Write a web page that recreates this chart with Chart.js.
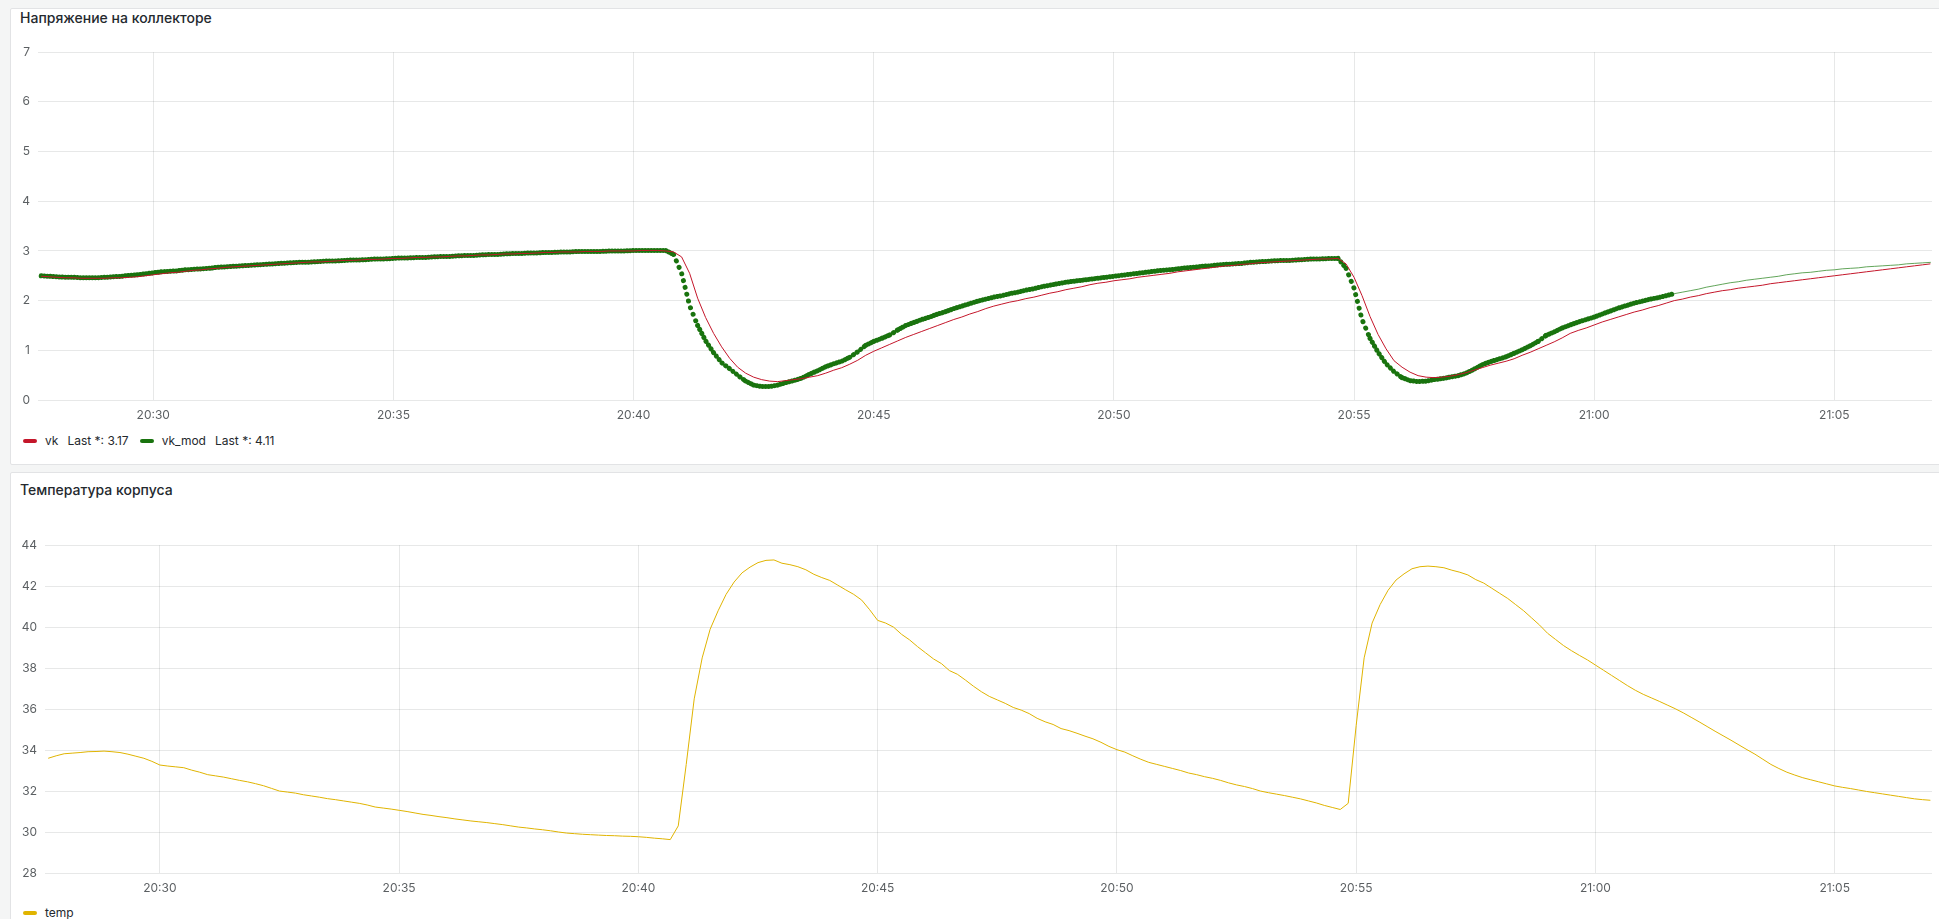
<!DOCTYPE html>
<html>
<head>
<meta charset="utf-8">
<script src="https://cdn.jsdelivr.net/npm/chart.js@4.4.1/dist/chart.umd.min.js"></script>
<style>
  html, body { margin: 0; padding: 0; width: 1939px; height: 919px; overflow: hidden; background: #f4f5f5; font-family: Inter, "Noto Sans", sans-serif; }
  .panel { position: absolute; left: 10px; width: 1940px; background: #fff; border: 1px solid #e2e3e5; border-radius: 2px; }
  #panel1 { top: 8px; height: 455px; }
  #panel2 { top: 472px; height: 470px; }
  .title { position: absolute; left: 20px; font-size: 14px; line-height: 16px; font-weight: 500; color: #24292e; }
  .legend { position: absolute; left: 23px; font-size: 12px; line-height: 14px; color: #24292e; display: flex; align-items: center; }
  .item { display: flex; align-items: center; margin-right: 11px; }
  .mark { width: 14px; height: 4px; border-radius: 2px; margin-right: 8px; }
  .last { margin-left: 9px; }
  canvas { position: absolute; }
</style>
</head>
<body>
<div class="panel" id="panel1"></div>
<div class="panel" id="panel2"></div>

<div class="title" style="top:10px">Напряжение на коллекторе</div>
<canvas id="vkChart" width="1929" height="385" style="left:10px;top:37px"></canvas>
<div class="legend" style="top:434px">
  <div class="item"><span class="mark" style="background:#C4162A"></span>vk<span class="last">Last *: 3.17</span></div>
  <div class="item"><span class="mark" style="background:#19730E"></span>vk_mod<span class="last">Last *: 4.11</span></div>
</div>

<div class="title" style="top:482px">Температура корпуса</div>
<canvas id="tempChart" width="1929" height="365" style="left:10px;top:530px"></canvas>
<div class="legend" style="top:906px">
  <div class="item"><span class="mark" style="background:#E0B400"></span>temp</div>
</div>

<script>
// samples every 10 s, first one at 20:27:40
const startTime = "20:27:40";
const stepSec = 10;

const timeTicks = ["20:30", "20:35", "20:40", "20:45", "20:50", "20:55", "21:00", "21:05"];

const vkValues = [
  2.49, 2.48,
  2.47, 2.46, 2.46, 2.45, 2.45, 2.45,
  2.45, 2.46, 2.46, 2.47, 2.48, 2.50,
  2.52, 2.54, 2.56, 2.57, 2.59, 2.61,
  2.62, 2.64, 2.65, 2.67, 2.68, 2.69,
  2.70, 2.71, 2.72, 2.73, 2.74, 2.75,
  2.76, 2.77, 2.78, 2.78, 2.79, 2.80,
  2.81, 2.81, 2.82, 2.83, 2.83, 2.84,
  2.85, 2.85, 2.86, 2.87, 2.87, 2.88,
  2.88, 2.89, 2.90, 2.90, 2.91, 2.92,
  2.92, 2.93, 2.94, 2.94, 2.95, 2.95,
  2.96, 2.97, 2.97, 2.98, 2.98, 2.98,
  2.99, 2.99, 2.99, 3.00, 3.00, 3.00,
  3.00, 3.01, 3.01, 3.01, 3.00, 2.98,
  2.88, 2.55, 2.05, 1.66, 1.34, 1.07,
  0.84, 0.66, 0.54, 0.46, 0.41, 0.38,
  0.37, 0.39, 0.41, 0.43, 0.46, 0.49,
  0.54, 0.60, 0.65, 0.72, 0.80, 0.90,
  0.98, 1.05, 1.12, 1.19, 1.26, 1.32,
  1.38, 1.44, 1.50, 1.56, 1.62, 1.67,
  1.73, 1.78, 1.84, 1.89, 1.93, 1.97,
  2.00, 2.04, 2.07, 2.11, 2.15, 2.18,
  2.22, 2.25, 2.28, 2.32, 2.35, 2.37,
  2.40, 2.42, 2.44, 2.47, 2.49, 2.51,
  2.53, 2.55, 2.58, 2.60, 2.62, 2.64,
  2.66, 2.68, 2.70, 2.71, 2.73, 2.74,
  2.76, 2.77, 2.78, 2.79, 2.80, 2.81,
  2.82, 2.83, 2.84, 2.84, 2.85, 2.74,
  2.47, 2.10, 1.68, 1.32, 1.03, 0.79,
  0.66, 0.56, 0.49, 0.46, 0.45, 0.46,
  0.48, 0.51, 0.55, 0.60, 0.65, 0.70,
  0.74, 0.78, 0.83, 0.90, 0.96, 1.03,
  1.10, 1.17, 1.25, 1.34, 1.40, 1.45,
  1.51, 1.57, 1.62, 1.67, 1.72, 1.77,
  1.81, 1.86, 1.90, 1.95, 2.00, 2.03,
  2.07, 2.10, 2.14, 2.17, 2.20, 2.22,
  2.25, 2.27, 2.29, 2.31, 2.34, 2.36,
  2.38, 2.40, 2.42, 2.44, 2.46, 2.48,
  2.50, 2.52, 2.54, 2.56, 2.58, 2.60,
  2.62, 2.64, 2.66, 2.68, 2.70, 2.72,
  2.74
];

const vkModValues = [
  2.50, 2.49,
  2.48, 2.47, 2.47, 2.46, 2.46, 2.46,
  2.47, 2.48, 2.49, 2.51, 2.52, 2.54,
  2.56, 2.58, 2.59, 2.60, 2.62, 2.63,
  2.64, 2.65, 2.67, 2.68, 2.69, 2.70,
  2.71, 2.72, 2.73, 2.74, 2.75, 2.76,
  2.77, 2.77, 2.78, 2.79, 2.80, 2.80,
  2.81, 2.82, 2.82, 2.83, 2.84, 2.84,
  2.85, 2.86, 2.86, 2.87, 2.87, 2.88,
  2.89, 2.89, 2.90, 2.91, 2.91, 2.92,
  2.93, 2.93, 2.94, 2.95, 2.95, 2.96,
  2.96, 2.97, 2.97, 2.98, 2.98, 2.99,
  2.99, 2.99, 2.99, 3.00, 3.00, 3.00,
  3.01, 3.01, 3.01, 3.01, 3.01, 2.93,
  2.55, 1.90, 1.50, 1.19, 0.95, 0.75,
  0.63, 0.50, 0.38, 0.30, 0.27, 0.27,
  0.30, 0.35, 0.39, 0.44, 0.52, 0.59,
  0.67, 0.73, 0.78, 0.86, 0.97, 1.10,
  1.18, 1.24, 1.31, 1.41, 1.50, 1.56,
  1.62, 1.67, 1.73, 1.78, 1.84, 1.89,
  1.94, 1.99, 2.03, 2.07, 2.10, 2.14,
  2.17, 2.21, 2.24, 2.28, 2.31, 2.34,
  2.37, 2.39, 2.41, 2.43, 2.45, 2.47,
  2.49, 2.51, 2.53, 2.55, 2.57, 2.59,
  2.61, 2.62, 2.64, 2.66, 2.67, 2.69,
  2.70, 2.72, 2.73, 2.74, 2.75, 2.77,
  2.78, 2.79, 2.80, 2.81, 2.81, 2.82,
  2.83, 2.84, 2.84, 2.85, 2.85, 2.65,
  2.25, 1.62, 1.24, 0.96, 0.73, 0.57,
  0.45, 0.39, 0.37, 0.38, 0.41, 0.43,
  0.46, 0.49, 0.54, 0.62, 0.71, 0.77,
  0.82, 0.87, 0.94, 1.01, 1.09, 1.18,
  1.30, 1.37, 1.45, 1.51, 1.57, 1.62,
  1.67, 1.73, 1.79, 1.85, 1.90, 1.95,
  1.99, 2.03, 2.06, 2.10, 2.14, 2.17,
  2.20, 2.23, 2.27, 2.30, 2.33, 2.36,
  2.38, 2.41, 2.43, 2.45, 2.47, 2.49,
  2.52, 2.54, 2.56, 2.57, 2.59, 2.61,
  2.62, 2.64, 2.65, 2.66, 2.68, 2.69,
  2.70, 2.71, 2.72, 2.74, 2.75, 2.76,
  2.77
];

const tempValues = [
  33.60, 33.72,
  33.82, 33.85, 33.88, 33.92, 33.93, 33.95,
  33.92, 33.88, 33.80, 33.70, 33.60, 33.45,
  33.27, 33.22, 33.18, 33.14, 33.02, 32.92,
  32.80, 32.74, 32.68, 32.60, 32.52, 32.45,
  32.36, 32.26, 32.13, 32.00, 31.95, 31.90,
  31.82, 31.76, 31.70, 31.63, 31.58, 31.52,
  31.46, 31.40, 31.32, 31.22, 31.17, 31.12,
  31.06, 31.00, 30.93, 30.86, 30.81, 30.75,
  30.70, 30.64, 30.59, 30.54, 30.50, 30.46,
  30.41, 30.36, 30.30, 30.24, 30.20, 30.15,
  30.11, 30.06, 30.00, 29.95, 29.92, 29.89,
  29.87, 29.85, 29.83, 29.82, 29.80, 29.79,
  29.77, 29.74, 29.70, 29.67, 29.63, 30.30,
  33.30, 36.50, 38.50, 39.90, 40.80, 41.60,
  42.20, 42.65, 42.93, 43.15, 43.26, 43.28,
  43.12, 43.05, 42.95, 42.80, 42.58, 42.42,
  42.28, 42.05, 41.82, 41.60, 41.32, 40.85,
  40.33, 40.20, 40.00, 39.65, 39.38, 39.05,
  38.75, 38.45, 38.22, 37.88, 37.70, 37.42,
  37.12, 36.85, 36.62, 36.45, 36.28, 36.08,
  35.95, 35.78, 35.55, 35.38, 35.25, 35.05,
  34.95, 34.82, 34.68, 34.55, 34.38, 34.18,
  34.02, 33.90, 33.72, 33.55, 33.40, 33.30,
  33.20, 33.10, 33.00, 32.88, 32.80, 32.70,
  32.62, 32.52, 32.40, 32.30, 32.22, 32.12,
  32.00, 31.92, 31.85, 31.78, 31.70, 31.62,
  31.52, 31.42, 31.30, 31.20, 31.10, 31.40,
  35.20, 38.50, 40.20, 41.10, 41.80, 42.30,
  42.60, 42.85, 42.95, 42.98, 42.95, 42.90,
  42.78, 42.68, 42.55, 42.32, 42.15, 41.90,
  41.65, 41.40, 41.10, 40.80, 40.45, 40.10,
  39.70, 39.40, 39.10, 38.85, 38.62, 38.40,
  38.15, 37.90, 37.65, 37.40, 37.15, 36.92,
  36.72, 36.55, 36.38, 36.20, 36.02, 35.82,
  35.60, 35.38, 35.15, 34.92, 34.70, 34.48,
  34.25, 34.02, 33.80, 33.55, 33.30, 33.10,
  32.92, 32.78, 32.65, 32.55, 32.45, 32.35,
  32.25, 32.18, 32.12, 32.05, 31.98, 31.92,
  31.86, 31.80, 31.74, 31.68, 31.62, 31.58,
  31.55
];

// visible time window and the point where vk_mod stops being drawn as dots
const viewFrom = "20:27:36";
const viewTo = "21:07:02";
const vkModDotsUntil = "21:01:40";

const toSec = (hms) => {
  const p = hms.split(":").map(Number);
  return p[0] * 3600 + p[1] * 60 + (p[2] || 0);
};
const fmtTime = (s) => {
  const h = Math.floor(s / 3600);
  const m = Math.floor((s % 3600) / 60);
  return String(h).padStart(2, "0") + ":" + String(m).padStart(2, "0");
};

const t0 = toSec(startTime);
const toPoints = (vals) => vals.map((v, i) => ({ x: t0 + i * stepSec, y: v }));
const dotsEndIdx = (toSec(vkModDotsUntil) - t0) / stepSec;

const gridColor = "rgba(36, 41, 46, 0.11)";
const tickColor = "rgba(36, 41, 46, 0.75)";
const tickFont = { family: "Inter", size: 12 };

function makeOptions(yMin, yMax, yStep, yWidth, padTop) {
  return {
    responsive: false,
    animation: false,
    devicePixelRatio: 1,
    layout: { padding: { top: padTop, right: 7, left: 0, bottom: 0 } },
    plugins: { legend: { display: false }, tooltip: { enabled: false } },
    elements: { point: { radius: 0 }, line: { tension: 0 } },
    scales: {
      x: {
        type: "linear",
        min: toSec(viewFrom),
        max: toSec(viewTo),
        afterFit: (s) => { s.height = 22; },
        afterBuildTicks: (s) => { s.ticks = timeTicks.map((t) => ({ value: toSec(t) })); },
        border: { display: false },
        grid: { color: gridColor, drawTicks: false },
        ticks: {
          maxRotation: 0,
          autoSkip: false,
          padding: 8,
          color: tickColor,
          font: tickFont,
          callback: (v) => fmtTime(v),
        },
      },
      y: {
        min: yMin,
        max: yMax,
        afterFit: (s) => { s.width = yWidth; },
        border: { display: false },
        grid: { color: gridColor, drawTicks: false },
        ticks: { stepSize: yStep, padding: 8, color: tickColor, font: tickFont },
      },
    },
  };
}

const dotted = (ctx) => ctx.p0DataIndex < dotsEndIdx;

new Chart(document.getElementById("vkChart"), {
  type: "line",
  data: {
    datasets: [
      {
        label: "vk",
        data: toPoints(vkValues),
        borderColor: "#C4162A",
        borderWidth: 1,
      },
      {
        label: "vk_mod",
        data: toPoints(vkModValues),
        borderColor: "#19730E",
        borderWidth: 5,
        borderCapStyle: "round",
        segment: {
          borderWidth: (ctx) => (dotted(ctx) ? 5 : 1),
          borderColor: (ctx) => (dotted(ctx) ? "#19730E" : "rgba(45, 135, 35, 0.75)"),
          borderDash: (ctx) => {
            if (!dotted(ctx)) return [];
            const dx = Math.abs(ctx.p1.x - ctx.p0.x);
            const dy = Math.abs(ctx.p1.y - ctx.p0.y);
            if (dy > dx * 2) return [0.01, 7];
            if (dy > dx * 0.6) return [0.01, 4.5];
            return [0.01, 3];
          },
        },
      },
    ],
  },
  options: makeOptions(0, 7, 1, 28, 0),
});

new Chart(document.getElementById("tempChart"), {
  type: "line",
  data: {
    datasets: [
      {
        label: "temp",
        data: toPoints(tempValues),
        borderColor: "#E0B400",
        borderWidth: 1,
      },
    ],
  },
  options: makeOptions(28, 44, 2, 35, 14),
});
</script>
</body>
</html>
